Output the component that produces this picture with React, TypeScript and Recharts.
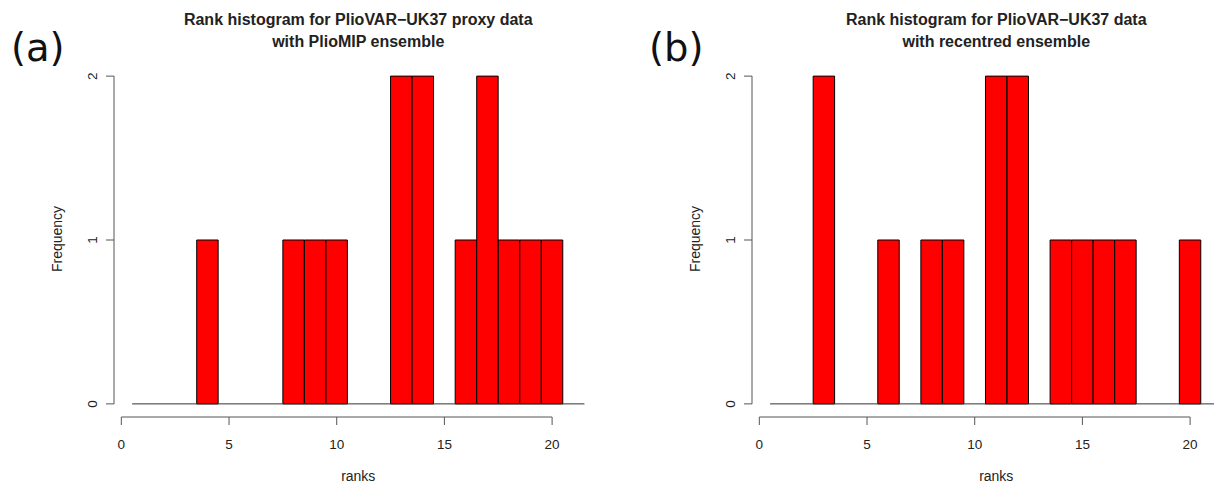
import React from 'react'
import { BarChart, Bar, XAxis, YAxis, ReferenceLine } from 'recharts'

// rank bins 1..21 (20-member ensemble)
const ranks = [1, 2, 3, 4, 5, 6, 7, 8, 9, 10, 11, 12, 13, 14, 15, 16, 17, 18, 19, 20, 21]
const countsPlioMIP = [0, 0, 0, 1, 0, 0, 0, 1, 1, 1, 0, 0, 2, 2, 0, 1, 2, 1, 1, 1, 0]
const countsRecentred = [0, 0, 2, 0, 0, 1, 0, 1, 1, 0, 2, 2, 0, 1, 1, 1, 1, 0, 0, 1, 0]
const xTicks = [0, 5, 10, 15, 20]
const yTicks = [0, 1, 2]

const AXIS = '#555'
const TEXT = '#222'
const FONT = '"Liberation Sans", Arial, sans-serif'

const CHART_W = 620
const CHART_H = 487
const MARGIN = { top: 63, right: 17.5, left: 74, bottom: 10 }
const X_DOMAIN: [number, number] = [-0.34, 22.34]
const Y_DOMAIN: [number, number] = [-0.08, 2.08]
const PLOT_W = CHART_W - MARGIN.left - 40 - MARGIN.right
// a hair under the bin width so recharts doesn't shrink the bars to 90%
const BIN_PX = PLOT_W / (X_DOMAIN[1] - X_DOMAIN[0]) - 0.1

function YTick({ x, y, payload }: any) {
  const cx = x - 12
  return (
    <text
      x={cx}
      y={y}
      dy="0.35em"
      textAnchor="middle"
      transform={`rotate(-90, ${cx}, ${y})`}
      fontSize={13.5}
      fontFamily={FONT}
      fill={TEXT}
    >
      {payload.value}
    </text>
  )
}

interface PanelProps {
  left: number
  tag: string
  title1: string
  title2: string
  counts: number[]
}

function Panel({ left, tag, title1, title2, counts }: PanelProps) {
  const data = ranks.map((r, i) => ({ rank: r, count: counts[i] }))
  const centre = MARGIN.left + 40 + PLOT_W / 2
  return (
    <div style={{ position: 'absolute', left, top: 0, width: CHART_W, height: CHART_H }}>
      <BarChart width={CHART_W} height={CHART_H} data={data} margin={MARGIN} barCategoryGap={0} barGap={0}>
        <XAxis
          dataKey="rank"
          type="number"
          domain={X_DOMAIN}
          ticks={xTicks}
          allowDataOverflow
          axisLine={false}
          tickSize={8}
          tickMargin={14}
          height={60}
          tickLine={{ stroke: AXIS }}
          tick={{ fontSize: 13.5, fontFamily: FONT, fill: TEXT }}
        />
        <YAxis
          type="number"
          domain={Y_DOMAIN}
          ticks={yTicks}
          allowDataOverflow
          axisLine={false}
          width={40}
          tickSize={8}
          tickLine={{ stroke: AXIS }}
          tick={<YTick />}
        />
        <Bar dataKey="count" barSize={BIN_PX} fill="#FF0000" stroke="#000" strokeWidth={1} isAnimationActive={false} />
        <ReferenceLine segment={[{ x: 0.5, y: 0 }, { x: 21.5, y: 0 }]} stroke="#333" ifOverflow="visible" />
        <ReferenceLine segment={[{ x: X_DOMAIN[0], y: 0 }, { x: X_DOMAIN[0], y: 2 }]} stroke={AXIS} ifOverflow="visible" />
        <ReferenceLine segment={[{ x: 0, y: Y_DOMAIN[0] }, { x: 20, y: Y_DOMAIN[0] }]} stroke={AXIS} ifOverflow="visible" />
      </BarChart>
      <div style={{ position: 'absolute', left: 11, top: 28.5, fontFamily: '"DejaVu Sans", sans-serif', fontSize: 38.5, color: '#111', lineHeight: 1 }}>
        {tag}
      </div>
      <div
        style={{
          position: 'absolute',
          left: centre - 250,
          width: 500,
          top: 8.5,
          textAlign: 'center',
          fontFamily: FONT,
          fontWeight: 'bold',
          fontSize: 16,
          lineHeight: '22px',
          color: TEXT,
        }}
      >
        <div>{title1}</div>
        <div>{title2}</div>
      </div>
      <div style={{ position: 'absolute', left: centre - 50, width: 100, top: 468, textAlign: 'center', fontFamily: FONT, fontSize: 14, color: TEXT }}>
        ranks
      </div>
      <div
        style={{
          position: 'absolute',
          left: 57 - 50,
          top: 240 - 9,
          width: 100,
          textAlign: 'center',
          fontFamily: FONT,
          fontSize: 14,
          color: TEXT,
          transform: 'rotate(-90deg)',
        }}
      >
        Frequency
      </div>
    </div>
  )
}

export default function App() {
  return (
    <div style={{ position: 'absolute', left: 0, top: 0, width: 1214, height: 487, background: '#fff', overflow: 'hidden' }}>
      <Panel
        left={0}
        tag="(a)"
        title1="Rank histogram for PlioVAR−UK37 proxy data"
        title2="with PlioMIP ensemble"
        counts={countsPlioMIP}
      />
      <Panel
        left={638}
        tag="(b)"
        title1="Rank histogram for PlioVAR−UK37 data"
        title2="with recentred ensemble"
        counts={countsRecentred}
      />
    </div>
  )
}
